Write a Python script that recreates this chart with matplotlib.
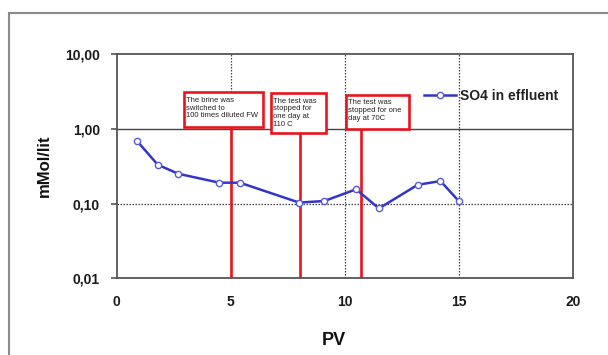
import matplotlib
matplotlib.use("Agg")
import matplotlib.pyplot as plt
import matplotlib.ticker as mticker
from matplotlib.patches import Rectangle
from matplotlib.transforms import blended_transform_factory

plt.rcParams["font.family"] = ["Liberation Sans", "DejaVu Sans"]

# ── Data ────────────────────────────────────────────────────────────────
pv = [0.9, 1.8, 2.7, 4.5, 5.4, 8.0, 9.1, 10.5, 11.5, 13.2, 14.2, 15.0]
so4 = [0.68, 0.33, 0.25, 0.19, 0.19, 0.103, 0.108, 0.155, 0.086, 0.178, 0.20, 0.108]

event_pv = [5.0, 8.05, 10.7]
event_text = [
    "The brine was\nswitched to\n100 times diluted FW",
    "The test was\nstopped for\none day at\n110 C",
    "The test was\nstopped for one\nday at 70C",
]
# box geometry: left (PV), top (axes frac), width (PV), height (axes frac)
box_left = [2.95, 6.77, 10.06]
box_top = [0.829, 0.825, 0.818]
box_w = [3.47, 2.41, 2.78]
box_h = [0.156, 0.178, 0.153]

y_ticks = [0.01, 0.1, 1, 10]
x_ticks = [0, 5, 10, 15, 20]

LINE_BLUE = "#3434c8"
RED = "#e8141c"

fig = plt.figure(figsize=(6.08, 3.55), dpi=100)
ax = fig.add_axes([0.192, 0.216, 0.750, 0.632])

# outer frame of the original sheet
fig.patches.append(Rectangle((9 / 608, -0.1), 1.2, 1 - 13 / 355 + 0.1,
                             transform=fig.transFigure, fill=False,
                             edgecolor="#8a8a8a", lw=1.5, zorder=0))

ax.set_yscale("log")
ax.set_xlim(0, 20)
ax.set_ylim(0.01, 10)

# grid: dotted verticals, solid at 1, dotted at 0.1
for xv in [5, 10, 15]:
    ax.axvline(xv, color="#444444", lw=0.9, ls=(0, (1.2, 1.2)), zorder=1)
ax.axhline(1, color="#444444", lw=1.0, zorder=1)
ax.axhline(0.1, color="#444444", lw=0.9, ls=(0, (1.2, 1.2)), zorder=1)

# events: red lines + boxes
tr = blended_transform_factory(ax.transData, ax.transAxes)
for xe, txt, bl, bt, bw, bh in zip(event_pv, event_text, box_left, box_top, box_w, box_h):
    ax.plot([xe, xe], [0, bt - bh], color=RED, lw=1.9, transform=tr, zorder=2,
            solid_capstyle="butt")
    ax.add_patch(Rectangle((bl, bt - bh), bw, bh, transform=tr, facecolor="white",
                           edgecolor=RED, lw=1.9, zorder=3))
    ax.text(bl + 0.1, bt - 0.02, txt, transform=tr, ha="left", va="top",
            fontsize=5.5, color="#222222", linespacing=1.15, zorder=4)

ax.plot(pv, so4, color=LINE_BLUE, lw=1.8, marker="o", markersize=4.5,
        markerfacecolor="white", markeredgecolor="#5a5ad8", markeredgewidth=1.0,
        label="SO4 in effluent", zorder=5)

ax.yaxis.set_major_locator(mticker.FixedLocator(y_ticks))
ax.yaxis.set_minor_locator(mticker.NullLocator())
ax.yaxis.set_major_formatter(mticker.FuncFormatter(lambda v, _: f"{v:.2f}".replace(".", ",")))
ax.set_xticks(x_ticks)

ax.tick_params(axis="y", length=4, width=1.2, color="#555555", pad=8,
               labelsize=10, labelcolor="#1a1a1a")
ax.tick_params(axis="x", length=0, pad=12, labelsize=10, labelcolor="#1a1a1a")
for lab in ax.get_xticklabels() + ax.get_yticklabels():
    lab.set_fontweight("bold")

for s in ax.spines.values():
    s.set_color("#555555")
    s.set_linewidth(1.3)

ax.set_xlabel("PV", fontsize=13, fontweight="bold", color="#111111")
ax.xaxis.set_label_coords(0.475, -0.24)
ax.set_ylabel("mMol/lit", fontsize=12, fontweight="bold", color="#111111")
ax.yaxis.set_label_coords(-0.142, 0.5)

leg = ax.legend(loc="center left", bbox_to_anchor=(0.662, 0.812), frameon=False,
                handlelength=2.3, handletextpad=0.3, borderaxespad=0,
                prop={"size": 10, "weight": "bold"})
for t in leg.get_texts():
    t.set_color("#222222")

fig.savefig("out.png", dpi=100, facecolor="white")
